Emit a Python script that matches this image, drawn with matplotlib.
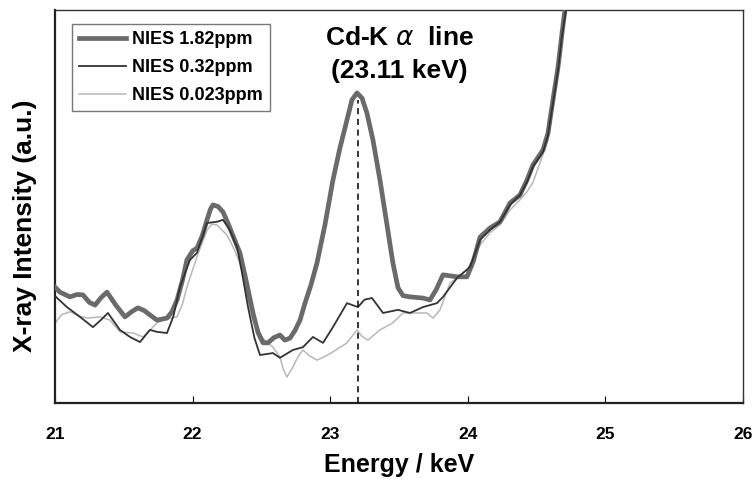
import matplotlib
matplotlib.use("Agg")
import matplotlib.pyplot as plt
import numpy as np

# ---- data ----
e_high = [21.00, 21.036, 21.109, 21.160, 21.203, 21.250, 21.291, 21.335, 21.378, 21.440,
          21.509, 21.560, 21.603, 21.650, 21.690, 21.741, 21.814, 21.850, 21.887, 21.925,
          21.959, 22.000, 22.032, 22.070, 22.105, 22.130, 22.148, 22.185, 22.221, 22.257,
          22.294, 22.344, 22.387, 22.439, 22.475, 22.512, 22.548, 22.590, 22.635, 22.670,
          22.708, 22.745, 22.781, 22.817, 22.860, 22.904, 22.962, 23.020, 23.071, 23.122,
          23.158, 23.195, 23.231, 23.267, 23.311, 23.362, 23.413, 23.456, 23.493, 23.530,
          23.580, 23.674, 23.725, 23.770, 23.820, 23.922, 23.994, 24.040, 24.089, 24.161,
          24.234, 24.307, 24.379, 24.430, 24.474, 24.547, 24.583, 24.619, 24.656, 24.685,
          24.706, 24.73]
i_high = [29.5, 28.2, 27.0, 27.6, 27.5, 25.6, 24.9, 26.8, 28.2, 25.0,
          21.9, 23.3, 24.2, 23.5, 22.4, 21.1, 21.6, 23.2, 26.2, 31.0,
          36.4, 38.7, 39.4, 42.5, 46.6, 49.3, 50.4, 50.0, 48.6, 45.8,
          42.5, 38.2, 31.5, 22.9, 18.0, 15.3, 15.3, 16.6, 17.3, 16.0,
          16.5, 18.5, 21.1, 25.4, 30.0, 35.6, 45.3, 56.7, 64.9, 72.0,
          77.1, 78.9, 77.6, 73.8, 66.9, 56.7, 45.3, 35.6, 29.3, 27.3,
          27.0, 26.7, 26.2, 28.8, 32.6, 32.1, 32.1, 36.0, 42.2, 44.5,
          46.1, 50.9, 52.9, 56.7, 60.6, 64.4, 68.7, 77.1, 85.5, 94.1,
          100.0, 108.0]

e_mid = [21.007, 21.087, 21.182, 21.276, 21.330, 21.385, 21.472, 21.545, 21.618, 21.690,
         21.741, 21.814, 21.860, 21.908, 21.981, 22.032, 22.105, 22.177, 22.221, 22.270,
         22.323, 22.360, 22.403, 22.450, 22.490, 22.584, 22.635, 22.730, 22.802, 22.875,
         22.948, 23.020, 23.122, 23.202, 23.250, 23.304, 23.384, 23.493, 23.580, 23.674,
         23.776, 23.820, 23.922, 24.016, 24.089, 24.161, 24.234, 24.307, 24.379, 24.430,
         24.474, 24.547, 24.583, 24.619, 24.656, 24.685, 24.714, 24.74]
i_mid = [27.0, 24.4, 21.9, 19.3, 21.0, 22.9, 18.6, 16.8, 15.5, 18.6,
         18.1, 17.8, 22.0, 29.5, 36.4, 38.2, 45.8, 46.1, 46.6, 44.0,
         39.7, 33.0, 24.4, 16.5, 12.2, 12.7, 11.5, 13.5, 14.2, 16.8,
         15.3, 19.3, 25.4, 24.4, 26.3, 26.7, 22.9, 23.7, 22.9, 24.4,
         25.4, 27.0, 31.8, 34.6, 41.5, 44.0, 46.1, 50.4, 52.9, 56.2,
         60.1, 63.9, 68.2, 76.3, 84.7, 93.6, 100.0, 108.0]

e_low = [21.007, 21.050, 21.109, 21.170, 21.233, 21.327, 21.400, 21.472, 21.567, 21.640,
         21.690, 21.741, 21.814, 21.887, 21.925, 21.959, 22.032, 22.105, 22.140, 22.177,
         22.250, 22.300, 22.344, 22.390, 22.439, 22.510, 22.584, 22.635, 22.660, 22.686,
         22.730, 22.770, 22.802, 22.850, 22.904, 22.960, 23.020, 23.122, 23.195, 23.230,
         23.275, 23.362, 23.456, 23.529, 23.631, 23.703, 23.747, 23.798, 23.871, 23.994,
         24.089, 24.161, 24.234, 24.307, 24.379, 24.430, 24.474, 24.525, 24.583, 24.619,
         24.656, 24.685, 24.714, 24.74]
i_low = [20.6, 22.5, 23.2, 22.2, 21.6, 21.9, 21.1, 18.1, 17.8, 16.8,
         18.5, 20.4, 21.4, 21.9, 25.0, 29.5, 37.2, 44.0, 45.5, 45.3,
         42.7, 39.3, 35.6, 28.5, 21.1, 16.5, 14.2, 11.7, 8.5, 6.6,
         9.2, 12.0, 13.5, 12.0, 10.9, 11.8, 13.0, 15.3, 18.6, 17.0,
         16.0, 18.6, 20.4, 22.9, 22.9, 22.9, 21.6, 23.7, 30.5, 33.8,
         40.2, 43.3, 45.3, 49.1, 51.7, 53.7, 56.2, 61.1, 66.9, 75.1,
         84.2, 92.9, 100.0, 108.0]

labels = ["NIES 1.82ppm", "NIES 0.32ppm", "NIES 0.023ppm"]
xticks = [21, 22, 23, 24, 25, 26]
cd_line = 23.2
cd_peak = 77.0

# ---- figure ----
fig = plt.figure(figsize=(7.52, 4.79), dpi=100)
ax = fig.add_axes([0.0731, 0.1587, 0.9149, 0.8205])

ax.plot(e_high, i_high, color="#6a6a6a", lw=3.4, label=labels[0], zorder=3,
        solid_joinstyle="round")
ax.plot(e_mid, i_mid, color="#333333", lw=1.3, label=labels[1], zorder=4)
ax.plot(e_low, i_low, color="#b8b8b8", lw=1.1, label=labels[2], zorder=2)

ax.vlines(cd_line, 0, cd_peak, colors="black", linestyles=(0, (4, 3)), lw=1.1, zorder=5)

ax.set_xlim(21, 26)
ax.set_ylim(0, 100)
ax.set_xticks(xticks)
ax.set_xticklabels([str(t) for t in xticks], fontfamily="Liberation Sans",
                   fontweight="bold", fontsize=12.5)
ax.tick_params(axis="x", direction="in", length=5, width=0.8, pad=17, colors="black")
ax.set_yticks([])

for side in ["left", "bottom"]:
    ax.spines[side].set_linewidth(1.6)
    ax.spines[side].set_color("#222222")
for side in ["top", "right"]:
    ax.spines[side].set_linewidth(1.0)
    ax.spines[side].set_color("#333333")

ax.set_xlabel("Energy / keV", fontfamily="Liberation Sans",
              fontweight="bold", fontsize=18, labelpad=8)
ax.set_ylabel("X-ray Intensity (a.u.)", fontfamily="Liberation Sans",
              fontweight="bold", fontsize=19)
ax.yaxis.set_label_coords(-0.026, 0.45)

ax.text(0.500, 0.929, r"Cd-K $\alpha$  line", transform=ax.transAxes,
        ha="center", va="center", fontfamily="Liberation Sans",
        fontweight="bold", fontsize=19)
ax.text(0.500, 0.845, "(23.11 keV)", transform=ax.transAxes,
        ha="center", va="center", fontfamily="Liberation Sans",
        fontweight="bold", fontsize=19)

leg = ax.legend(loc="upper left", bbox_to_anchor=(0.0247, 0.964), frameon=True,
                fancybox=False, edgecolor="#777777", framealpha=1,
                prop={"family": "Liberation Sans", "weight": "bold", "size": 13},
                handlelength=2.6, handletextpad=0.3, borderpad=0.4, labelspacing=0.6,
                borderaxespad=0)
leg.get_frame().set_linewidth(1.0)

fig.savefig("out.png", dpi=100)
